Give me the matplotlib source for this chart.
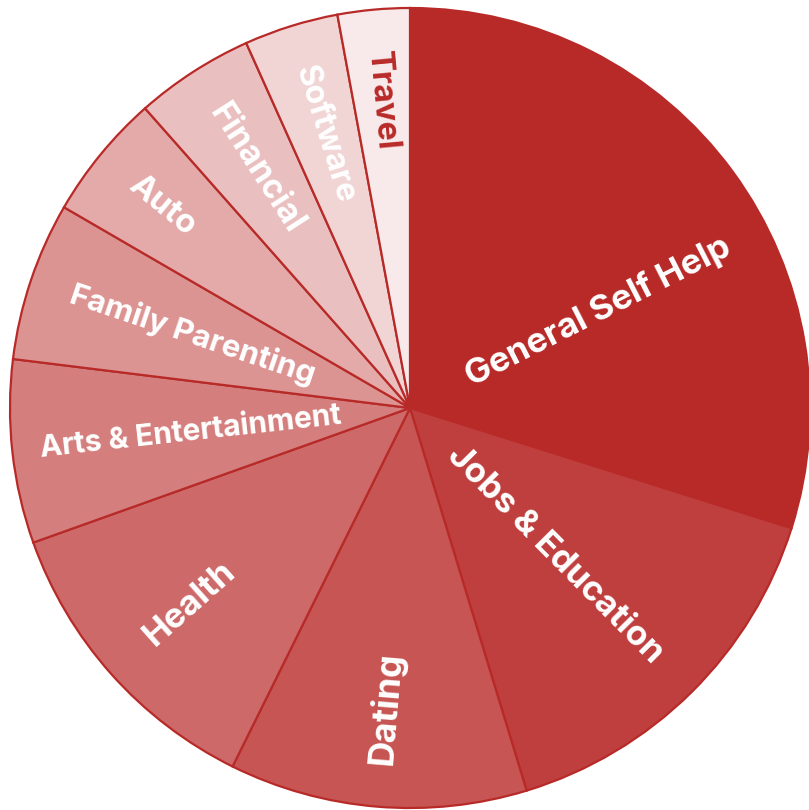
import numpy as np
import matplotlib
matplotlib.use('Agg')
import matplotlib.pyplot as plt
from matplotlib.colors import to_rgb

# categories share, clockwise from 12 o'clock
categories = ['General Self Help', 'Jobs & Education', 'Dating', 'Health',
              'Arts & Entertainment', 'Family Parenting', 'Auto', 'Financial',
              'Software', 'Travel']
shares = [29.8, 15.4, 12.0, 12.2, 7.4, 6.4, 5.1, 4.8, 3.8, 2.9]
opacity = [1.0, 0.9, 0.8, 0.7, 0.6, 0.5, 0.4, 0.3, 0.2, 0.1]
# label sizes shrink in the thin slices
label_size = [25, 25, 25.5, 25, 21.5, 22.5, 23.5, 24, 23, 23]
# the big slice's label sits lower than its mid angle
label_angle = {'General Self Help': 27}
label_radius = {'Arts & Entertainment': 0.93, 'Health': 0.875, 'Jobs & Education': 0.88}

base = '#b82a28'
base_rgb = np.array(to_rgb(base))
# blend base red with white by opacity so slices stay opaque
colors = [tuple(1 - a * (1 - base_rgb)) for a in opacity]

plt.rcParams['font.family'] = ['Inter', 'DejaVu Sans']

fig = plt.figure(figsize=(8.09, 8.10), dpi=100)
ax = fig.add_axes([0, 0, 1, 1])

ax.pie(shares, colors=colors, startangle=90, counterclock=False, radius=1,
       wedgeprops=dict(edgecolor=base, linewidth=1.6))

R = 400.0
cx, cy = 410, 402  # centre in px from bottom-left
ax.set_xlim(-cx / R, (809 - cx) / R)
ax.set_ylim(-cy / R, (810 - cy) / R)
ax.set_aspect('equal')
ax.axis('off')

total = sum(shares)
cum = 0
for name, v, fs in zip(categories, shares, label_size):
    mid = 90 - 360 * (cum + v / 2) / total
    cum += v
    mid = label_angle.get(name, mid)
    mid = (mid + 180) % 360 - 180
    rad = np.deg2rad(mid)
    r = label_radius.get(name, 0.895)
    x, y = r * np.cos(rad), r * np.sin(rad)
    if -90 <= mid <= 90:
        rot, ha = mid, 'right'
    else:
        rot, ha = mid - 180 if mid > 0 else mid + 180, 'left'
    col = base if name == 'Travel' else 'white'
    ax.text(x, y, name, rotation=rot, rotation_mode='anchor', ha=ha, va='center',
            fontsize=fs, fontweight='bold', color=col)

fig.savefig('out.png', dpi=100)
